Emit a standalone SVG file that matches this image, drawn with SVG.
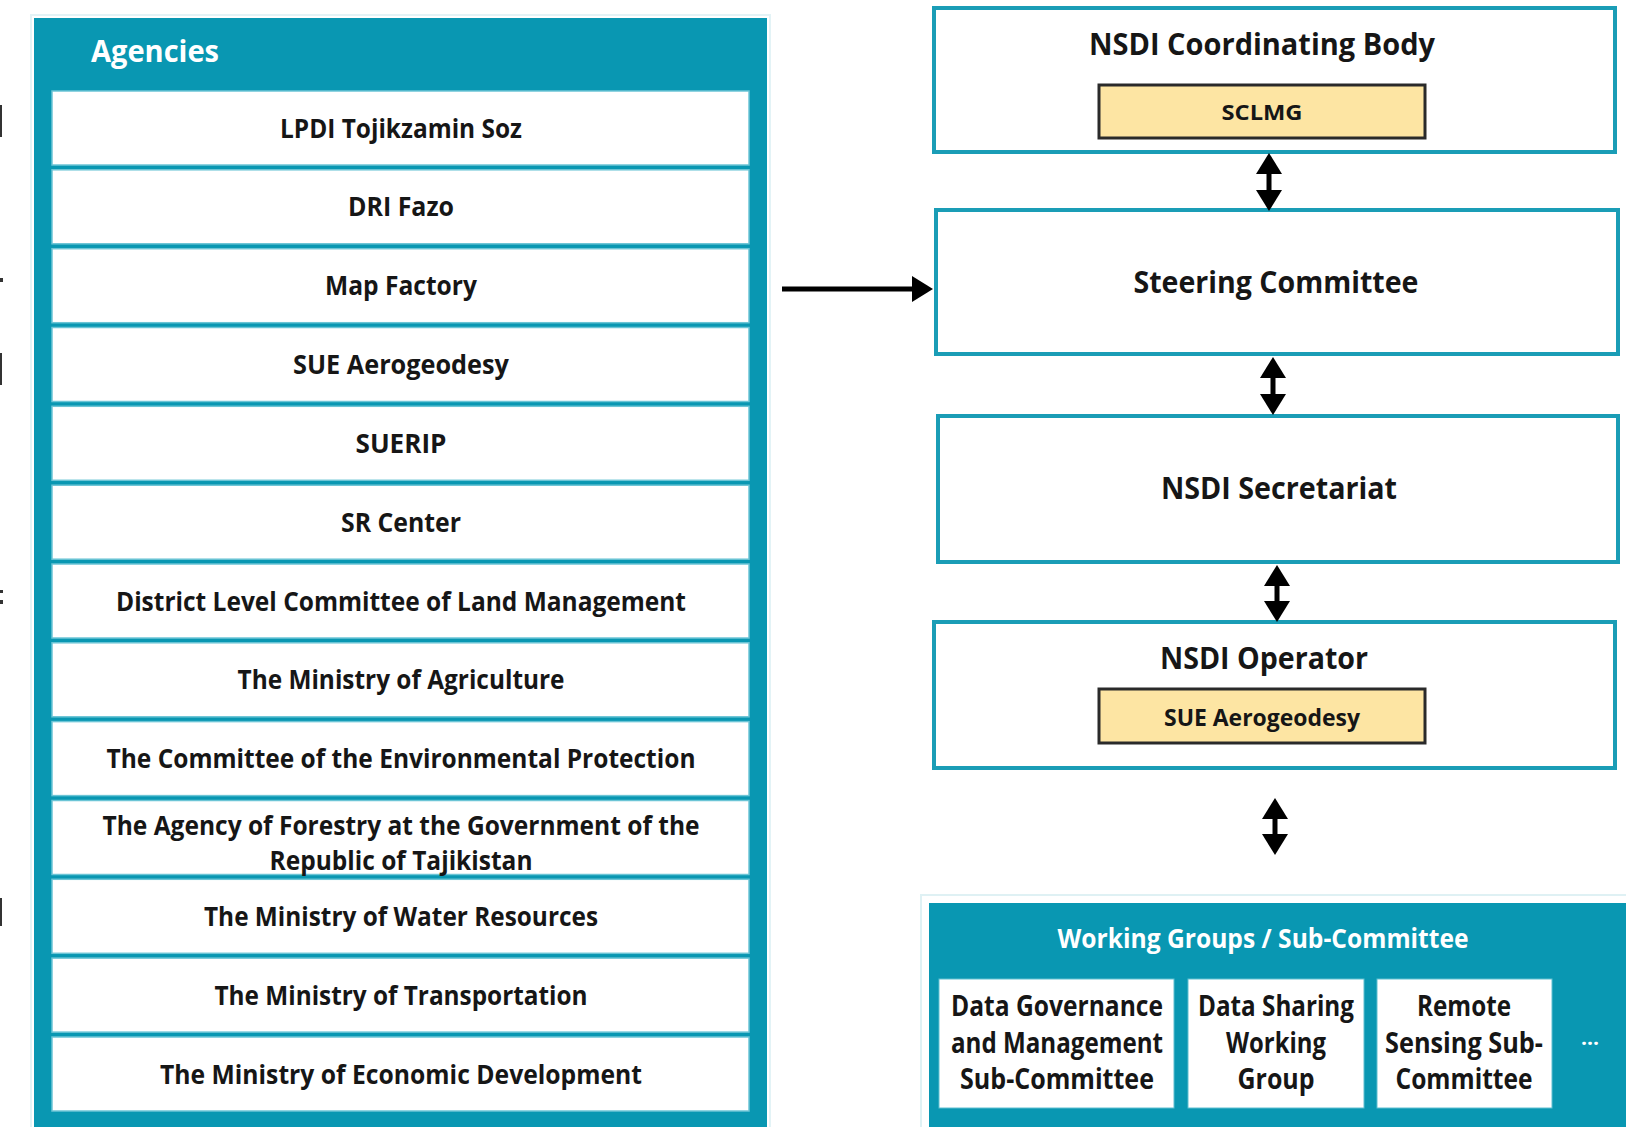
<svg xmlns="http://www.w3.org/2000/svg" width="1626" height="1127" viewBox="0 0 1626 1127">
<defs>
<style>
.t{font-family:"Open Sans","Liberation Sans",sans-serif;font-weight:700;fill:#161616;text-anchor:middle}
.w{font-family:"Open Sans","Liberation Sans",sans-serif;font-weight:700;fill:#ffffff}
.row{fill:#ffffff;stroke:#6cc5d6;stroke-width:1.5}
.box{fill:#ffffff;stroke:#1a9db6;stroke-width:4}
.yel{fill:#fde5a3;stroke:#2a2a2a;stroke-width:3}
.sub{fill:#ffffff;stroke:#5fbfd0;stroke-width:1}
.arr{stroke:#000;stroke-width:5;fill:none}
.mark{fill:#333}
</style>
<marker id="ah" viewBox="0 0 21 26" refX="11" refY="13" markerWidth="21" markerHeight="26" markerUnits="userSpaceOnUse" orient="auto-start-reverse">
<path d="M0,0 L21,13 L0,26 Z" fill="#000"/>
</marker>
</defs>
<rect width="1626" height="1127" fill="#ffffff"/>

<g id="edge-marks">
<rect class="mark" x="0" y="105" width="2" height="32"/>
<rect class="mark" x="0" y="278" width="3" height="4"/>
<rect class="mark" x="0" y="353" width="2" height="32"/>
<rect class="mark" x="0" y="590" width="3" height="3"/>
<rect class="mark" x="0" y="600" width="3" height="4"/>
<rect class="mark" x="0" y="898" width="2" height="28"/>
</g>

<g id="agencies">
<rect x="31" y="15" width="739" height="1120" fill="none" stroke="#e3f3f6" stroke-width="2"/>
<rect x="34" y="18" width="733" height="1115" fill="#0997b2"/>
<text class="w" x="91" y="62" font-size="30" textLength="128" lengthAdjust="spacingAndGlyphs">Agencies</text>
</g>

<g id="agency-1"><rect class="row" x="52" y="91" width="697" height="74"/><text class="t" x="401" y="137.5" font-size="27" textLength="242" lengthAdjust="spacingAndGlyphs">LPDI Tojikzamin Soz</text></g>
<g id="agency-2"><rect class="row" x="52" y="169.8" width="697" height="74"/><text class="t" x="401" y="216.3" font-size="27" textLength="106" lengthAdjust="spacingAndGlyphs">DRI Fazo</text></g>
<g id="agency-3"><rect class="row" x="52" y="248.7" width="697" height="74"/><text class="t" x="401" y="295.2" font-size="27" textLength="152" lengthAdjust="spacingAndGlyphs">Map Factory</text></g>
<g id="agency-4"><rect class="row" x="52" y="327.5" width="697" height="74"/><text class="t" x="401" y="374" font-size="27" textLength="216" lengthAdjust="spacingAndGlyphs">SUE Aerogeodesy</text></g>
<g id="agency-5"><rect class="row" x="52" y="406.3" width="697" height="74"/><text class="t" x="401" y="452.8" font-size="27" textLength="91" lengthAdjust="spacingAndGlyphs">SUERIP</text></g>
<g id="agency-6"><rect class="row" x="52" y="485.2" width="697" height="74"/><text class="t" x="401" y="531.7" font-size="27" textLength="120" lengthAdjust="spacingAndGlyphs">SR Center</text></g>
<g id="agency-7"><rect class="row" x="52" y="564" width="697" height="74"/><text class="t" x="401" y="610.5" font-size="27" textLength="570" lengthAdjust="spacingAndGlyphs">District Level Committee of Land Management</text></g>
<g id="agency-8"><rect class="row" x="52" y="642.8" width="697" height="74"/><text class="t" x="401" y="689.3" font-size="27" textLength="327" lengthAdjust="spacingAndGlyphs">The Ministry of Agriculture</text></g>
<g id="agency-9"><rect class="row" x="52" y="721.6" width="697" height="74"/><text class="t" x="401" y="768.1" font-size="27" textLength="589" lengthAdjust="spacingAndGlyphs">The Committee of the Environmental Protection</text></g>
<g id="agency-10"><rect class="row" x="52" y="800.5" width="697" height="74"/><text class="t" x="401" y="835" font-size="27" textLength="597" lengthAdjust="spacingAndGlyphs">The Agency of Forestry at the Government of the</text><text class="t" x="401" y="870" font-size="27" textLength="263" lengthAdjust="spacingAndGlyphs">Republic of Tajikistan</text></g>
<g id="agency-11"><rect class="row" x="52" y="879.3" width="697" height="74"/><text class="t" x="401" y="925.8" font-size="27" textLength="394" lengthAdjust="spacingAndGlyphs">The Ministry of Water Resources</text></g>
<g id="agency-12"><rect class="row" x="52" y="958.1" width="697" height="74"/><text class="t" x="401" y="1004.6" font-size="27" textLength="373" lengthAdjust="spacingAndGlyphs">The Ministry of Transportation</text></g>
<g id="agency-13"><rect class="row" x="52" y="1037" width="697" height="74"/><text class="t" x="401" y="1083.5" font-size="27" textLength="482" lengthAdjust="spacingAndGlyphs">The Ministry of Economic Development</text></g>

<g id="coordinating-body">
<rect class="box" x="934" y="8" width="681" height="144"/>
<text class="t" x="1262" y="55" font-size="30" textLength="346" lengthAdjust="spacingAndGlyphs">NSDI Coordinating Body</text>
<rect class="yel" x="1099" y="85" width="326" height="53"/>
<text class="t" x="1262" y="120" font-size="21" textLength="81" lengthAdjust="spacingAndGlyphs">SCLMG</text>
</g>

<g id="steering-committee">
<rect class="box" x="936" y="210" width="682" height="144"/>
<text class="t" x="1276" y="293" font-size="31" textLength="285" lengthAdjust="spacingAndGlyphs">Steering Committee</text>
</g>

<g id="secretariat">
<rect class="box" x="938" y="416" width="680" height="146"/>
<text class="t" x="1279" y="499" font-size="31" textLength="236" lengthAdjust="spacingAndGlyphs">NSDI Secretariat</text>
</g>

<g id="operator">
<rect class="box" x="934" y="622" width="681" height="146"/>
<text class="t" x="1264" y="669" font-size="30" textLength="208" lengthAdjust="spacingAndGlyphs">NSDI Operator</text>
<rect class="yel" x="1099" y="689" width="326" height="54"/>
<text class="t" x="1262" y="726" font-size="24" textLength="196" lengthAdjust="spacingAndGlyphs">SUE Aerogeodesy</text>
</g>

<g id="working-groups">
<rect x="921" y="895" width="712" height="240" fill="none" stroke="#dff1f4" stroke-width="2"/>
<rect x="929" y="903" width="700" height="230" fill="#0997b2"/>
<text class="w" x="1263" y="948" font-size="26" text-anchor="middle" textLength="411" lengthAdjust="spacingAndGlyphs">Working Groups / Sub-Committee</text>
<text class="w" x="1590" y="1045" font-size="20" text-anchor="middle" textLength="18" lengthAdjust="spacingAndGlyphs">...</text>
</g>

<g id="wg-data-governance">
<rect class="sub" x="939" y="979" width="235" height="129"/>
<text class="t" x="1057" y="1016" font-size="28" textLength="212" lengthAdjust="spacingAndGlyphs">Data Governance</text>
<text class="t" x="1057" y="1053" font-size="28" textLength="212" lengthAdjust="spacingAndGlyphs">and Management</text>
<text class="t" x="1057" y="1089" font-size="28" textLength="194" lengthAdjust="spacingAndGlyphs">Sub-Committee</text>
</g>

<g id="wg-data-sharing">
<rect class="sub" x="1188" y="979" width="176" height="129"/>
<text class="t" x="1276" y="1016" font-size="28" textLength="156" lengthAdjust="spacingAndGlyphs">Data Sharing</text>
<text class="t" x="1276" y="1053" font-size="28" textLength="100" lengthAdjust="spacingAndGlyphs">Working</text>
<text class="t" x="1276" y="1089" font-size="28" textLength="77" lengthAdjust="spacingAndGlyphs">Group</text>
</g>

<g id="wg-remote-sensing">
<rect class="sub" x="1377" y="979" width="175" height="129"/>
<text class="t" x="1464" y="1016" font-size="28" textLength="94" lengthAdjust="spacingAndGlyphs">Remote</text>
<text class="t" x="1464" y="1053" font-size="28" textLength="158" lengthAdjust="spacingAndGlyphs">Sensing Sub-</text>
<text class="t" x="1464" y="1089" font-size="28" textLength="137" lengthAdjust="spacingAndGlyphs">Committee</text>
</g>

<g id="connectors">
<line class="arr" x1="782" y1="289" x2="923" y2="289" marker-end="url(#ah)"/>
<line class="arr" x1="1269" y1="163" x2="1269" y2="201" marker-start="url(#ah)" marker-end="url(#ah)"/>
<line class="arr" x1="1273" y1="367" x2="1273" y2="405" marker-start="url(#ah)" marker-end="url(#ah)"/>
<line class="arr" x1="1277" y1="575" x2="1277" y2="612" marker-start="url(#ah)" marker-end="url(#ah)"/>
<line class="arr" x1="1275" y1="808" x2="1275" y2="845" marker-start="url(#ah)" marker-end="url(#ah)"/>
</g>
</svg>
